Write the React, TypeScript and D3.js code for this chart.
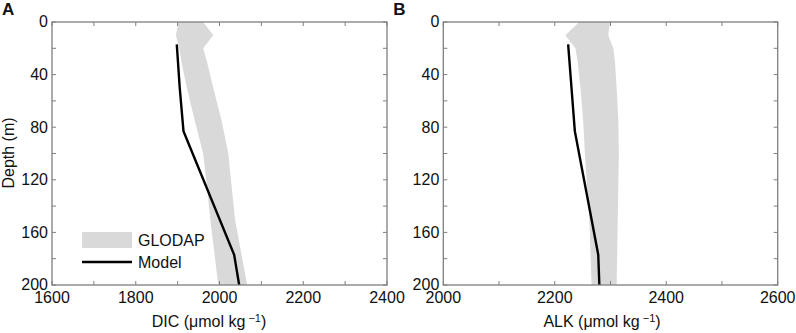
import React from "react";
import * as d3 from "d3";

// ---------- data ----------
const bandDepths = [0, 10, 20, 30, 50, 75, 100, 125, 150, 200];
const dicLow = [1902, 1896, 1904, 1909, 1922, 1941, 1961, 1970, 1978, 1997];
const dicHigh = [1961, 1985, 1961, 1970, 1985, 2005, 2021, 2029, 2037, 2066];
const alkLow = [2244, 2219, 2237, 2241, 2246, 2251, 2254, 2258, 2262, 2266];
const alkHigh = [2299, 2296, 2305, 2308, 2311, 2314, 2315, 2314, 2313, 2311];

const modelDepths = [17, 50, 83, 177, 200];
const modelDIC = [1898, 1905, 1914, 2035, 2047];
const modelALK = [2224, 2230, 2236, 2278, 2280];

const depthTickLabels = [0, 40, 80, 120, 160, 200];
const dicTickLabels = [1600, 1800, 2000, 2200, 2400];
const alkTickLabels = [2000, 2200, 2400, 2600];

const FONT = "'Liberation Sans', Arial, sans-serif";
const AXIS = "#7f7f7f";
const TEXT = "#111";
const BAND = "#d9d9d9";

type PanelProps = {
  left: number;
  right: number;
  xDomain: [number, number];
  xLabels: number[];
  low: number[];
  high: number[];
  model: number[];
  letter: string;
  varName: string;
  labelX: number;
  legend?: boolean;
};

const TOP = 22;
const BOTTOM = 285;

function Panel(p: PanelProps) {
  const x = d3.scaleLinear().domain(p.xDomain).range([p.left, p.right]);
  const y = d3.scaleLinear().domain([0, 200]).range([TOP, BOTTOM]);
  const xMinor = x.ticks((p.xDomain[1] - p.xDomain[0]) / 100);
  const yMinor = y.ticks(10);

  const bandPts: [number, number][] = [
    ...bandDepths.map((d, i) => [p.low[i], d] as [number, number]),
    ...bandDepths
      .map((d, i) => [p.high[i], d] as [number, number])
      .reverse(),
  ];
  const area = d3
    .line<[number, number]>()
    .x((d) => x(d[0]))
    .y((d) => y(d[1]));
  const bandPath = area(bandPts) + "Z";

  const modelLine = d3
    .line<number>()
    .x((d) => x(d))
    .y((_, i) => y(modelDepths[i]))(p.model);

  const tl = 4;
  return (
    <g>
      <path d={bandPath} fill={BAND} stroke="none" />
      <path d={modelLine || ""} fill="none" stroke="#000" strokeWidth={2.4} />
      {/* frame */}
      <rect
        x={p.left}
        y={TOP}
        width={p.right - p.left}
        height={BOTTOM - TOP}
        fill="none"
        stroke={AXIS}
        strokeWidth={1.3}
      />
      {xMinor.map((t) => (
        <g key={"xt" + t}>
          <line x1={x(t)} x2={x(t)} y1={BOTTOM} y2={BOTTOM - tl} stroke={AXIS} strokeWidth={1} />
          <line x1={x(t)} x2={x(t)} y1={TOP} y2={TOP + tl} stroke={AXIS} strokeWidth={1} />
        </g>
      ))}
      {yMinor.map((t) => (
        <g key={"yt" + t}>
          <line x1={p.left} x2={p.left + tl} y1={y(t)} y2={y(t)} stroke={AXIS} strokeWidth={1} />
          <line x1={p.right} x2={p.right - tl} y1={y(t)} y2={y(t)} stroke={AXIS} strokeWidth={1} />
        </g>
      ))}
      {p.xLabels.map((t) => (
        <text
          key={"xl" + t}
          x={x(t)}
          y={303}
          textAnchor="middle"
          fontSize={16}
          fontFamily={FONT}
          fill={TEXT}
        >
          {t}
        </text>
      ))}
      {depthTickLabels.map((t) => (
        <text
          key={"yl" + t}
          x={p.left - 4}
          y={y(t)}
          dy="0.34em"
          textAnchor="end"
          fontSize={16}
          fontFamily={FONT}
          fill={TEXT}
        >
          {t}
        </text>
      ))}
      <text
        x={p.labelX}
        y={327}
        textAnchor="middle"
        fontSize={16}
        fontFamily={FONT}
        fill={TEXT}
      >
        {p.varName} (μmol kg
        <tspan dx={3} dy={-5} fontSize={11}>
          −1
        </tspan>
        <tspan dy={5}>)</tspan>
      </text>
      <text
        x={p.left - 50}
        y={15}
        fontSize={17}
        fontWeight="bold"
        fontFamily={FONT}
        fill={TEXT}
      >
        {p.letter}
      </text>
      {p.legend && (
        <g>
          <rect x={82} y={232} width={50} height={16} fill={BAND} />
          <text x={138} y={240} dy="0.36em" fontSize={16} fontFamily={FONT} fill={TEXT}>
            GLODAP
          </text>
          <line x1={82} x2={132} y1={262} y2={262} stroke="#000" strokeWidth={2.4} />
          <text x={138} y={262} dy="0.36em" fontSize={16} fontFamily={FONT} fill={TEXT}>
            Model
          </text>
        </g>
      )}
    </g>
  );
}

export default function App() {
  return (
    <svg
      width={796}
      height={333}
      style={{ position: "absolute", left: 0, top: 0, background: "#fff" }}
    >
      <rect width={796} height={333} fill="#fff" />
      <Panel
        left={52}
        right={387}
        xDomain={[1600, 2400]}
        xLabels={dicTickLabels}
        low={dicLow}
        high={dicHigh}
        model={modelDIC}
        letter="A"
        varName="DIC"
        labelX={209}
        legend
      />
      <Panel
        left={443.3}
        right={777.7}
        xDomain={[2000, 2600]}
        xLabels={alkTickLabels}
        low={alkLow}
        high={alkHigh}
        model={modelALK}
        letter="B"
        varName="ALK"
        labelX={602}
      />
      <text
        transform="translate(14,153) rotate(-90)"
        textAnchor="middle"
        fontSize={16}
        fontFamily={FONT}
        fill={TEXT}
      >
        Depth (m)
      </text>
    </svg>
  );
}
